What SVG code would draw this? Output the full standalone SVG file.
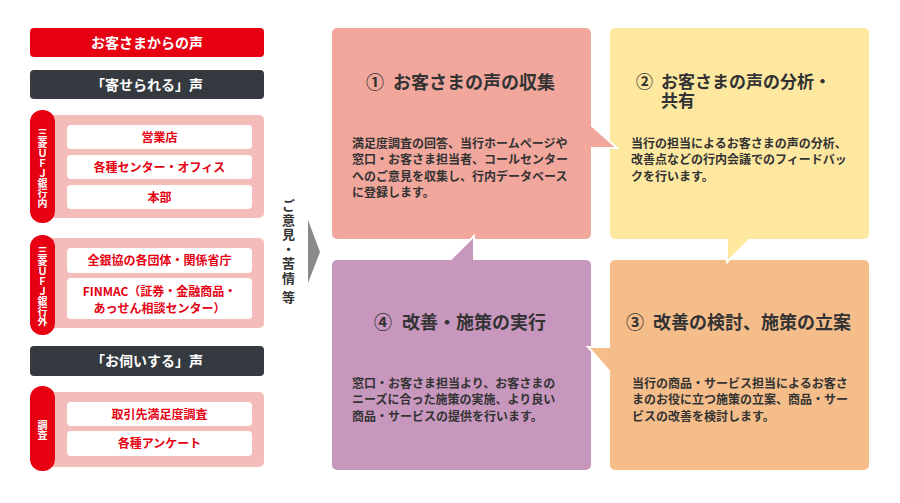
<svg xmlns="http://www.w3.org/2000/svg" width="900" height="503" viewBox="0 0 900 503">
<style>
text{font-family:"Noto Sans CJK JP","Noto Sans",sans-serif}
.hdr{fill:#fff;font-size:14px;font-weight:bold;text-anchor:middle}
.item{fill:#e60012;font-size:12px;font-weight:bold;text-anchor:middle}
.itemBox{fill:#fff}
.pinkBg{fill:#f5bcbc}
.pill{fill:#e60012}
.vt{fill:#fff;font-size:10px;font-weight:bold;writing-mode:vertical-rl;text-anchor:middle}
.title{fill:#333;font-size:18px;font-weight:bold}
.body{fill:#333;font-size:12px;font-weight:bold}
.ptr{stroke:#fff;stroke-width:2;stroke-linejoin:miter}
</style>

<g id="header-voice">
<rect x="30" y="28" width="234" height="29" rx="4" fill="#e60012"/>
<text class="hdr" x="147" y="47.5">お客さまからの声</text>
</g>

<g id="header-received">
<rect x="30" y="70" width="234" height="29" rx="4" fill="#353a40"/>
<text class="hdr" x="147" y="89.5">「寄せられる」声</text>
</g>

<g id="group-internal">
<rect class="pinkBg" x="40" y="115" width="224" height="103" rx="5"/>
<rect class="pill" x="30" y="110" width="25" height="113" rx="12"/>
<text class="vt" x="42.5" y="168">三菱ＵＦＪ銀行内</text>
<rect class="itemBox" x="67" y="125" width="185" height="24" rx="4"/>
<text class="item" x="159.5" y="141.5">営業店</text>
<rect class="itemBox" x="67" y="155" width="185" height="24" rx="4"/>
<text class="item" x="159.5" y="171.5">各種センター・オフィス</text>
<rect class="itemBox" x="67" y="185" width="185" height="24" rx="4"/>
<text class="item" x="159.5" y="201.5">本部</text>
</g>

<g id="group-external">
<rect class="pinkBg" x="40" y="238" width="224" height="90" rx="5"/>
<rect class="pill" x="30" y="235" width="25" height="100" rx="12"/>
<text class="vt" x="42.5" y="286">三菱ＵＦＪ銀行外</text>
<rect class="itemBox" x="67" y="248" width="185" height="25" rx="4"/>
<text class="item" x="159.5" y="265">全銀協の各団体・関係省庁</text>
<rect class="itemBox" x="67" y="278" width="185" height="41" rx="4"/>
<text class="item" x="159.5" y="295.5">FINMAC（証券・金融商品・</text>
<text class="item" x="159.5" y="312.5">あっせん相談センター）</text>
</g>

<g id="header-asked">
<rect x="30" y="346" width="234" height="30" rx="4" fill="#353a40"/>
<text class="hdr" x="147" y="366">「お伺いする」声</text>
</g>

<g id="group-survey">
<rect class="pinkBg" x="40" y="392" width="224" height="75" rx="5"/>
<rect class="pill" x="30" y="386" width="25" height="85" rx="12"/>
<text class="vt" x="42.5" y="430">調査</text>
<rect class="itemBox" x="67" y="402" width="185" height="24" rx="4"/>
<text class="item" x="159.5" y="418.5">取引先満足度調査</text>
<rect class="itemBox" x="67" y="431" width="185" height="25" rx="4"/>
<text class="item" x="159.5" y="448">各種アンケート</text>
</g>

<g id="label-opinions">
<text x="288.5" y="252" style="fill:#333;font-size:13px;font-weight:bold;writing-mode:vertical-rl;text-anchor:middle;letter-spacing:1.5px">ご意見・苦情 等</text>
</g>

<g id="step1">
<rect x="332" y="28" width="259" height="211" rx="5" fill="#f2a79d"/>
<text class="title" y="88.5"><tspan x="366">①</tspan><tspan x="393">お客さまの声の収集</tspan></text>
<text class="body"><tspan x="352" y="147.5">満足度調査の回答、当行ホームページや</tspan><tspan x="352" y="164">窓口・お客さま担当者、コールセンター</tspan><tspan x="352" y="180.5">へのご意見を収集し、行内データベース</tspan><tspan x="352" y="197">に登録します。</tspan></text>
</g>

<g id="step2">
<rect x="610" y="28" width="259" height="211" rx="5" fill="#fee8a0"/>
<text class="title" style="font-size:17px" y="87.5"><tspan x="636">②</tspan><tspan x="661">お客さまの声の分析・</tspan></text>
<text class="title" style="font-size:17px" x="661" y="106.5">共有</text>
<text class="body"><tspan x="631" y="147.5">当行の担当によるお客さまの声の分析、</tspan><tspan x="631" y="164">改善点などの行内会議でのフィードバッ</tspan><tspan x="631" y="180.5">クを行います。</tspan></text>
</g>

<g id="step3">
<rect x="610" y="260" width="259" height="210" rx="5" fill="#f4bd8a"/>
<text class="title" y="328.5"><tspan x="626">③</tspan><tspan x="653">改善の検討、施策の立案</tspan></text>
<text class="body"><tspan x="632" y="387.5">当行の商品・サービス担当によるお客さ</tspan><tspan x="632" y="404">まのお役に立つ施策の立案、商品・サー</tspan><tspan x="632" y="420.5">ビスの改善を検討します。</tspan></text>
</g>

<g id="step4">
<rect x="332" y="260" width="259" height="210" rx="5" fill="#c897be"/>
<text class="title" y="328.5"><tspan x="374">④</tspan><tspan x="402">改善・施策の実行</tspan></text>
<text class="body"><tspan x="352" y="387.5">窓口・お客さま担当より、お客さまの</tspan><tspan x="352" y="404">ニーズに合った施策の実施、より良い</tspan><tspan x="352" y="420.5">商品・サービスの提供を行います。</tspan></text>
</g>

<g id="connectors">
<polygon points="308,220 320,252 308,283" fill="#8a8a8a"/>
<polygon class="ptr" fill="#f2a79d" points="585,125 591,125 617,148 585,148"/>
<rect x="583" y="123" width="8" height="27" fill="#f2a79d"/>
<polygon class="ptr" fill="#fee8a0" points="727,233 750,233 750,239 727,262"/>
<rect x="725" y="231" width="27" height="8" fill="#fee8a0"/>
<polygon class="ptr" fill="#f4bd8a" points="588,347 616,347 616,372 610,372"/>
<rect x="610" y="345" width="8" height="29" fill="#f4bd8a"/>
<polygon class="ptr" fill="#c897be" points="474,236 474,266 450,266 450,260"/>
<rect x="448" y="260" width="28" height="8" fill="#c897be"/>
</g>
</svg>
